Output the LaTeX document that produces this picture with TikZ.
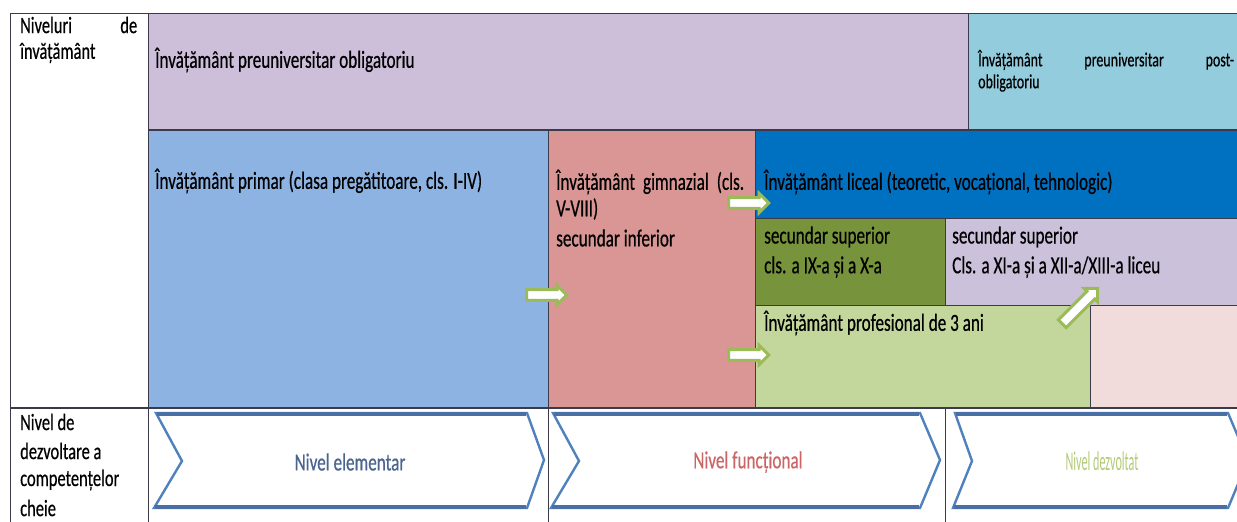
\documentclass[tikz,border=0pt]{standalone}
\usepackage{fontspec}
\setmainfont{Carlito}[FakeStretch=0.70,FakeBold=0.5]
\newfontfamily\narrowfont{Carlito}[FakeStretch=0.45]
\usetikzlibrary{shapes.arrows}
\definecolor{cPurple}{HTML}{CDBFDA}
\definecolor{cLBlue}{HTML}{93CDDD}
\definecolor{cBlue}{HTML}{8DB3E2}
\definecolor{cPink}{HTML}{D99694}
\definecolor{cDBlue}{HTML}{0070C0}
\definecolor{cDGreen}{HTML}{77933C}
\definecolor{cLPurple}{HTML}{CCC1DA}
\definecolor{cLGreen}{HTML}{C3D69B}
\definecolor{cLPink}{HTML}{F2DCDB}
\definecolor{cLine}{HTML}{3A3A4A}
\definecolor{cChev}{HTML}{4F81BD}
\definecolor{cChevD}{HTML}{4A6FA5}
\definecolor{cArr}{HTML}{9BBB59}
\definecolor{cTxtBlue}{HTML}{4A6590}
\definecolor{cTxtRed}{HTML}{CC6666}
\definecolor{cTxtGreen}{HTML}{B3CB78}
\begin{document}
\begin{tikzpicture}[x=1pt,y=-1pt,
  txt/.style={anchor=west,inner sep=0pt,font=\fontsize{24.5}{27}\selectfont,text=black,align=left},
  small/.style={font=\fontsize{20}{22}\selectfont},
  side/.style={font=\fontsize{23.5}{30}\selectfont},
  grid/.style={draw=cLine,line width=0.8pt},
  chev/.style={draw=cChev,line width=2.4pt,fill=white,line join=miter},
  chevband/.style={draw=cChevD,line width=4.5pt},
  blockarrow/.style={single arrow,draw=cArr,fill=white,line width=3pt,
    minimum height=40pt,minimum width=19pt,single arrow head extend=3pt,
    inner sep=2.5pt,single arrow head indent=0pt}
]
\useasboundingbox (0,0) rectangle (1237,522);
\fill[white] (0,0) rectangle (1237,522);
% cells
\fill[cPurple] (148,14) rectangle (968,130);
\fill[cLBlue] (968,14) rectangle (1237,130);
\fill[cBlue] (148,130) rectangle (548,408);
\fill[cPink] (548,130) rectangle (755,408);
\fill[cDBlue] (755,130) rectangle (1237,218);
\fill[cDGreen] (755,218) rectangle (945,305);
\fill[cLPurple] (945,218) rectangle (1237,305);
\fill[cLGreen] (755,305) rectangle (1090,408);
\fill[cLPink] (1090,305) rectangle (1237,408);
% grid lines
\draw[grid] (10,13) -- (1237,13);
\draw[grid] (10,13) -- (10,522);
\draw[grid] (148,13) -- (148,522);
\draw[grid] (968,13) -- (968,130);
\draw[draw=cLine,line width=1.4pt] (148,130) -- (1237,130);
\draw[grid] (548,130) -- (548,522);
\draw[grid] (755,130) -- (755,408);
\draw[grid] (755,218) -- (1237,218);
\draw[grid] (945,218) -- (945,305);
\draw[grid] (755,305) -- (1237,305);
\draw[grid] (1090,305) -- (1090,408);
\draw[draw=cLine,line width=1.4pt] (10,408) -- (1237,408);
\draw[grid] (945,408) -- (945,522);
% chevrons
\draw[chev] (156,413) -- (527,413) -- (544,460) -- (527,508) -- (154,508) -- (182,461) -- cycle;
\draw[chevband] (157,414) -- (526,414) (155,507) -- (526,507);
\draw[chev] (553,413) -- (920,413) -- (940,460) -- (920,508) -- (551,508) -- (579,461) -- cycle;
\draw[chevband] (554,414) -- (919,414) (552,507) -- (919,507);
\draw[chev] (955,413) -- (1228,413) -- (1248,460) -- (1228,508) -- (953,508) -- (972,461) -- cycle;
\draw[chevband] (956,414) -- (1227,414) (954,507) -- (1227,507);
\node[font=\fontsize{24.5}{26}\selectfont,text=cTxtBlue] (elem) at (350,462) {Nivel elementar};
\node[font=\fontsize{24.5}{26}\selectfont,text=cTxtRed] (func) at (748,462) {Nivel funcțional};
\node[font=\narrowfont\fontsize{27}{28}\selectfont,text=cTxtGreen] (dezv) at (1102,461) {Nivel dezvoltat};
% texts
\node[txt,side] (niv) at (20,25) {\makebox[117pt][s]{Niveluri\hfill de}};
\node[txt,side] (niv2) at (20,53) {învățământ};
\node[txt] (oblig) at (155,60) {Învățământ preuniversitar obligatoriu};
\node[txt,small] (post) at (978,60) {\makebox[256pt][s]{Învățământ\hfill preuniversitar\hfill post-}};
\node[txt,small] (post2) at (978,83) {obligatoriu};
\node[txt] (prim) at (155,181) {Învățământ primar (clasa pregătitoare, cls. I-IV)};
\node[txt] (gimn) at (556,182) {\makebox[188pt][s]{Învățământ\hfill gimnazial\hfill (cls.}};
\node[txt] (gimn2) at (556,209) {V-VIII)};
\node[txt] (gimn3) at (556,238) {secundar inferior};
\node[txt] (lic) at (764,182) {Învățământ liceal (teoretic, vocațional, tehnologic)};
\node[txt] (ss1) at (764,237) {secundar superior};
\node[txt] (ss1b) at (764,267) {cls. a IX-a și a X-a};
\node[txt] (ss2) at (952,237) {secundar superior};
\node[txt] (ss2b) at (952,267) {Cls. a XI-a și a XII-a/XIII-a liceu};
\node[txt] (prof) at (764,323) {Învățământ profesional de 3 ani};
\node[txt,side] (nd1) at (20,422) {Nivel de};
\node[txt,side] (nd2) at (20,451) {dezvoltare a};
\node[txt,side] (nd3) at (20,480) {competențelor};
\node[txt,side] (nd4) at (20,508) {cheie};
% block arrows
\node[blockarrow] (a1) at (544,295) {};
\node[blockarrow] (a2) at (746,203) {};
\node[blockarrow] (a3) at (746,355) {};
\node[blockarrow,minimum height=50pt,rotate=45] (a4) at (1078,308) {};
\end{tikzpicture}
\end{document}
